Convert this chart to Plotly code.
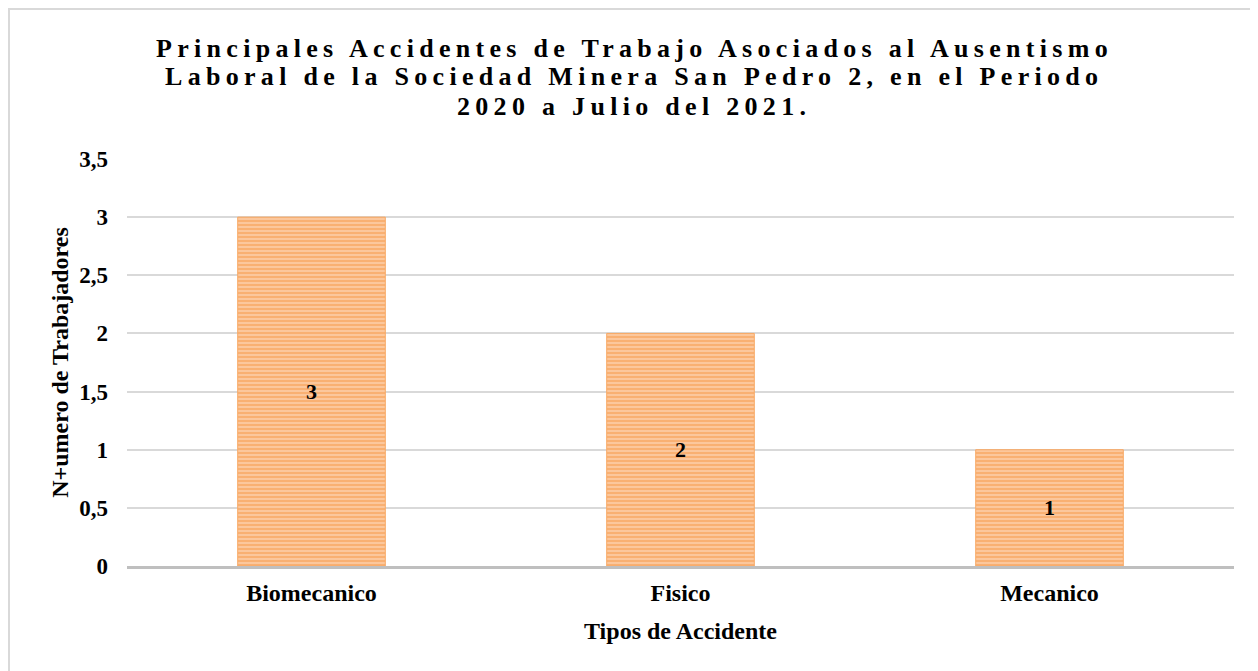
import plotly.graph_objects as go

categorias = ["Biomecanico", "Fisico", "Mecanico"]
trabajadores = [3, 2, 1]
ticks_y = [0, 0.5, 1, 1.5, 2, 2.5, 3, 3.5]
etiquetas_y = ["0", "0,5", "1", "1,5", "2", "2,5", "3", "3,5"]

lineas_titulo = ["Principales Accidentes de Trabajo Asociados al Ausentismo",
                 "Laboral de la Sociedad Minera San Pedro 2, en el Periodo",
                 "2020 a Julio del 2021."]
# altura de cada linea del titulo (en fraccion del area de trazado)
y_titulo = [1.2727, 1.2015, 1.1302]

serif = "Liberation Serif, Times New Roman, serif"
estilo = "letter-spacing:5.3px"

fig = go.Figure(go.Bar(
    x=categorias,
    y=trabajadores,
    text=[str(v) for v in trabajadores],
    textposition="inside",
    insidetextanchor="middle",
    textfont=dict(family=serif, size=22, color="black", weight="bold"),
    marker=dict(
        color="#fbd0ab",
        line=dict(color="#f8a965", width=1),
        pattern=dict(shape="-", fgcolor="#f68a2e", bgcolor="#fcd6b6",
                     size=4, solidity=0.7),
    ),
))

fig.update_layout(
    width=1258, height=671,
    paper_bgcolor="white", plot_bgcolor="white",
    margin=dict(l=119, r=32, t=151, b=113),
    bargap=0.6,
    showlegend=False,
    font=dict(family=serif, color="black"),
)

# el titulo va centrado en la figura, no en el area de trazado
for linea, yy in zip(lineas_titulo, y_titulo):
    fig.add_annotation(
        text=f'<span style="{estilo}">{linea}</span>',
        xref="paper", yref="paper", x=0.458, y=yy,
        xanchor="center", yanchor="middle", showarrow=False,
        font=dict(family=serif, size=26, color="black", weight="bold"),
    )

fig.update_xaxes(
    showline=True, linecolor="#bfbfbf", linewidth=3,
    ticks="", ticklabelstandoff=3,
    tickfont=dict(family=serif, size=24, weight="bold"),
    title=dict(text="Tipos de Accidente", standoff=18,
               font=dict(family=serif, size=24, weight="bold")),
)

fig.update_yaxes(
    range=[0, 3.5], tickvals=ticks_y, ticktext=etiquetas_y,
    showgrid=True, gridcolor="#d9d9d9", gridwidth=1.5,
    zeroline=False, showline=False, ticks="", ticklabelstandoff=18,
    tickfont=dict(family=serif, size=23, weight="bold"),
    title=dict(text="N+umero de Trabajadores", standoff=3,
               font=dict(family=serif, size=24, weight="bold")),
)

# marco gris alrededor del grafico
fig.add_shape(type="rect", xref="paper", yref="paper",
              x0=-0.1066, x1=1.05, y0=-0.3, y1=1.3686,
              line=dict(color="#d9d9d9", width=2), layer="below")

fig.write_html("out.html")
